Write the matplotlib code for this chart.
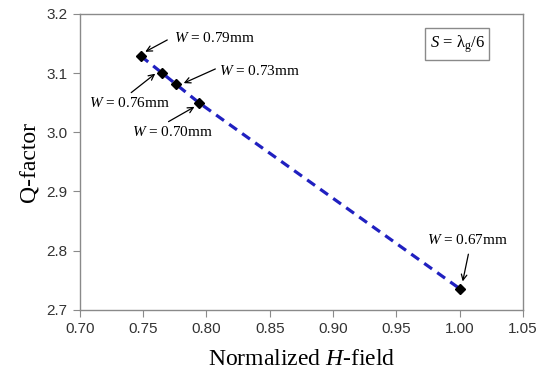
import matplotlib
matplotlib.use("Agg")
import matplotlib.pyplot as plt

plt.rcParams['mathtext.fontset'] = 'custom'
plt.rcParams['mathtext.rm'] = 'Liberation Serif'
plt.rcParams['mathtext.it'] = 'Liberation Serif:italic'

h_field = [0.748, 0.765, 0.776, 0.794, 1.00]
q_factor = [3.129, 3.100, 3.081, 3.050, 2.736]
widths = ['0.79', '0.76', '0.73', '0.70', '0.67']

# label text position, arrow tail and arrow head for each point
label_pos = [(0.774, 3.160), (0.771, 3.049), (0.810, 3.104), (0.741, 3.001), (1.006, 2.818)]
label_ha = ['left', 'right', 'left', 'left', 'center']
arrow_tail = [(0.769, 3.156), (0.7405, 3.067), (0.807, 3.107), (0.770, 3.018), (1.007, 2.794)]
arrow_head = [(0.7516, 3.136), (0.7595, 3.099), (0.782, 3.083), (0.7905, 3.043), (1.0025, 2.748)]

serif = 'Liberation Serif'
grey = '#8a8a8a'

fig, ax = plt.subplots(figsize=(5.44, 3.76), dpi=100)
fig.subplots_adjust(left=0.147, right=0.961, bottom=0.176, top=0.963)

ax.plot(h_field, q_factor, linestyle='--', color='#2020c0', linewidth=2.3,
        dashes=(3, 2), zorder=2)
ax.plot(h_field, q_factor, linestyle='none', marker='D', markersize=5.5,
        color='black', zorder=3)

for w, (tx, ty), ha, tail, head in zip(widths, label_pos, label_ha,
                                       arrow_tail, arrow_head):
    ax.text(tx, ty, r'$W$ = ' + w + 'mm', family=serif, fontsize=11,
            ha=ha, va='center')
    ax.annotate('', xy=head, xytext=tail,
                arrowprops=dict(arrowstyle='->', color='black', lw=0.9,
                                shrinkA=0, shrinkB=0))

ax.text(0.998, 3.149, r'$S$ = λ$_\mathrm{g}$/6', family=serif, fontsize=12,
        ha='center', va='center',
        bbox=dict(boxstyle='square,pad=0.3', facecolor='white', edgecolor=grey, lw=1))

ax.set_xlim(0.70, 1.05)
ax.set_ylim(2.7, 3.2)
ax.set_xticks([0.70, 0.75, 0.80, 0.85, 0.90, 0.95, 1.00, 1.05])
ax.set_yticks([2.7, 2.8, 2.9, 3.0, 3.1, 3.2])
ax.set_xticklabels(['0.70', '0.75', '0.80', '0.85', '0.90', '0.95', '1.00', '1.05'])
ax.set_yticklabels(['2.7', '2.8', '2.9', '3.0', '3.1', '3.2'])

for s in ax.spines.values():
    s.set_color(grey)
    s.set_linewidth(1.0)
ax.tick_params(direction='out', length=5, color=grey, labelsize=11,
               labelcolor='#333333', pad=4)
for lbl in ax.get_xticklabels() + ax.get_yticklabels():
    lbl.set_family('Liberation Sans')

ax.set_xlabel(r'Normalized $H$-field', family=serif, fontsize=17, labelpad=9)
ax.set_ylabel('Q-factor', family=serif, fontsize=17, labelpad=4)

fig.savefig('out.png', dpi=100)
